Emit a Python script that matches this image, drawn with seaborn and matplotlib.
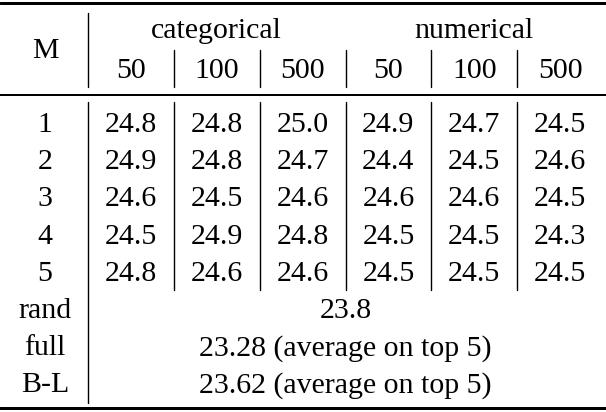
import numpy as np
import matplotlib
matplotlib.use("Agg")
import matplotlib.pyplot as plt
import seaborn as sns

# ---------------------------------------------------
# Table data
# ---------------------------------------------------
groups = ["categorical", "numerical"]
sizes = ["50", "100", "500"]
row_labels = ["1", "2", "3", "4", "5"]
categorical = [
    [24.8, 24.8, 25.0],
    [24.9, 24.8, 24.7],
    [24.6, 24.5, 24.6],
    [24.5, 24.9, 24.8],
    [24.8, 24.6, 24.6],
]
numerical = [
    [24.9, 24.7, 24.5],
    [24.4, 24.5, 24.6],
    [24.6, 24.6, 24.5],
    [24.5, 24.5, 24.3],
    [24.5, 24.5, 24.5],
]
extra_labels = ["rand", "full", "B-L"]
extra_values = ["23.8", "23.28 (average on top 5)", "23.62 (average on top 5)"]

# ---------------------------------------------------
# Figure setup
# ---------------------------------------------------
sns.set_style("white")
plt.rcParams["font.family"] = ["Liberation Serif", "DejaVu Serif"]
plt.rcParams["text.color"] = "black"

fig = plt.figure(figsize=(6.06, 4.12), dpi=100)
ax = fig.add_axes([0, 0, 1, 1])
ax.set_xlim(0, 606)
ax.set_ylim(412, 0)
ax.axis("off")

fs = 21.5
px = 0.72  # one pixel in points
kw = dict(ha="center", va="baseline", fontsize=fs, color="black")

# column layout
label_x = 45
col_edges = np.linspace(88, 603, 7)
col_centers = (col_edges[:-1] + col_edges[1:]) / 2

# row layout (baselines)
y_group = 38
y_size = 78
y_rows = 132 + 37.2 * np.arange(len(row_labels) + len(extra_labels))

# rules
ax.axhline(3, color="black", lw=3 * px)
ax.axhline(94.5, color="black", lw=2 * px)
ax.axhline(408, color="black", lw=3 * px)

# main vertical line
ax.plot([88, 88], [13, 87], color="black", lw=1.4 * px)
ax.plot([88, 88], [102, 403], color="black", lw=1.4 * px)
# column separators
for x in col_edges[1:-1]:
    ax.plot([x, x], [50, 87], color="black", lw=1.4 * px)
    ax.plot([x, x], [102, 290], color="black", lw=1.4 * px)

# header
ax.text(label_x, 58, "M", **kw)
for g, name in enumerate(groups):
    cx = (col_edges[3 * g] + col_edges[3 * g + 3]) / 2
    ax.text(cx, y_group, name, **kw)
    for j, s in enumerate(sizes):
        ax.text(col_centers[3 * g + j], y_size, s, **kw)

# body
for i, lab in enumerate(row_labels):
    y = y_rows[i]
    ax.text(label_x, y, lab, **kw)
    vals = categorical[i] + numerical[i]
    for j, v in enumerate(vals):
        ax.text(col_centers[j], y, f"{v:.1f}", **kw)

span_x = (col_edges[0] + col_edges[-1]) / 2
for k, (lab, val) in enumerate(zip(extra_labels, extra_values)):
    y = y_rows[len(row_labels) + k]
    ax.text(label_x, y, lab, **kw)
    ax.text(span_x, y, val, **kw)

fig.savefig("out.png", dpi=100)
